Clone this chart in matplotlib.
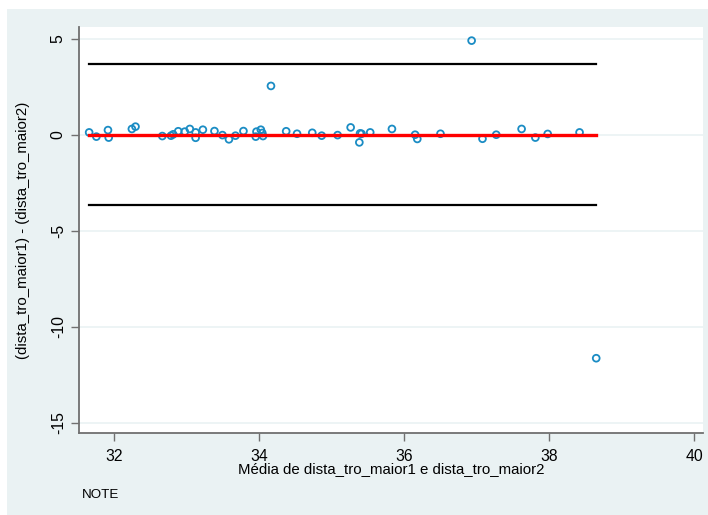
import numpy as np
import matplotlib
matplotlib.use("Agg")
import matplotlib.pyplot as plt
from matplotlib.patches import Rectangle

# mean of the two measurements (x) and their difference (y)
media = [31.65, 31.75, 31.91, 31.92, 32.24, 32.29, 32.66, 32.78, 32.81, 32.88,
         32.97, 33.04, 33.12, 33.12, 33.22, 33.38, 33.49, 33.58, 33.67, 33.78,
         33.95, 33.96, 34.02, 34.04, 34.05, 34.16, 34.37, 34.52, 34.73, 34.86,
         35.08, 35.26, 35.39, 35.38, 35.41, 35.53, 35.83, 36.15, 36.18, 36.50,
         36.93, 37.08, 37.27, 37.62, 37.81, 37.98, 38.42, 38.65]
diferenca = [0.12, -0.10, 0.24, -0.15, 0.30, 0.42, -0.07, -0.05, 0.02, 0.18,
             0.16, 0.30, 0.12, -0.16, 0.26, 0.19, -0.02, -0.24, -0.05, 0.19,
             -0.10, 0.16, 0.26, 0.09, -0.07, 2.54, 0.18, 0.05, 0.10, -0.05,
             -0.02, 0.38, 0.07, -0.40, 0.05, 0.12, 0.30, 0.00, -0.22, 0.05,
             4.90, -0.21, 0.00, 0.30, -0.15, 0.04, 0.12, -11.64]

diff_media = -0.02
limite_sup = 3.67
limite_inf = -3.68

xticks = [32, 34, 36, 38, 40]
yticks = [5, 0, -5, -10, -15]

bg = "#eaf2f3"
plt.rcParams["font.family"] = ["Liberation Sans", "DejaVu Sans"]

fig = plt.figure(figsize=(7.08, 5.15), dpi=100)
fig.patch.set_facecolor("white")
fig.patches.append(Rectangle((7 / 708, 0), 1, 1 - 9 / 515, transform=fig.transFigure,
                             facecolor=bg, edgecolor="none", linewidth=0, zorder=-10))

ax = fig.add_axes([79 / 708, 1 - 433.3 / 515, (702.7 - 79) / 708, (433.3 - 26.7) / 515])
ax.set_facecolor("white")
ax.set_xlim(31.51, 40.12)
ax.set_ylim(-15.55, 5.625)

for yv in yticks:
    ax.axhline(yv, color=bg, lw=1.2, zorder=1)

xmin, xmax = min(media), max(media)
ax.plot([xmin, xmax], [limite_sup, limite_sup], color="black", lw=1.6, zorder=2)
ax.plot([xmin, xmax], [limite_inf, limite_inf], color="black", lw=1.6, zorder=2)
ax.scatter(media, diferenca, s=24, facecolors="none", edgecolors="#1a8cc4",
           linewidths=1.3, zorder=3)
ax.plot([xmin, xmax], [diff_media, diff_media], color="#ff0000", lw=2.4, zorder=4)

for s in ["top", "right"]:
    ax.spines[s].set_visible(False)
for s in ["left", "bottom"]:
    ax.spines[s].set_color("#707070")
    ax.spines[s].set_linewidth(1.3)

ax.set_xticks(xticks)
ax.set_yticks(yticks)
ax.set_yticklabels([str(v) for v in yticks], rotation=90, va="center")
ax.tick_params(axis="both", direction="out", length=6, width=1, color="#707070",
               labelsize=11.3, labelcolor="black")
ax.tick_params(axis="x", pad=5)
ax.tick_params(axis="y", pad=3.5)

ax.set_xlabel("Média de dista_tro_maior1 e dista_tro_maior2", fontsize=10.8, labelpad=-1)
ax.set_ylabel("(dista_tro_maior1) - (dista_tro_maior2)", fontsize=10.8, labelpad=15)

fig.text(82 / 708, 1 - 495 / 515, "NOTE", fontsize=9.6, va="center", ha="left")

fig.savefig("out.png", dpi=100, facecolor=fig.get_facecolor())
